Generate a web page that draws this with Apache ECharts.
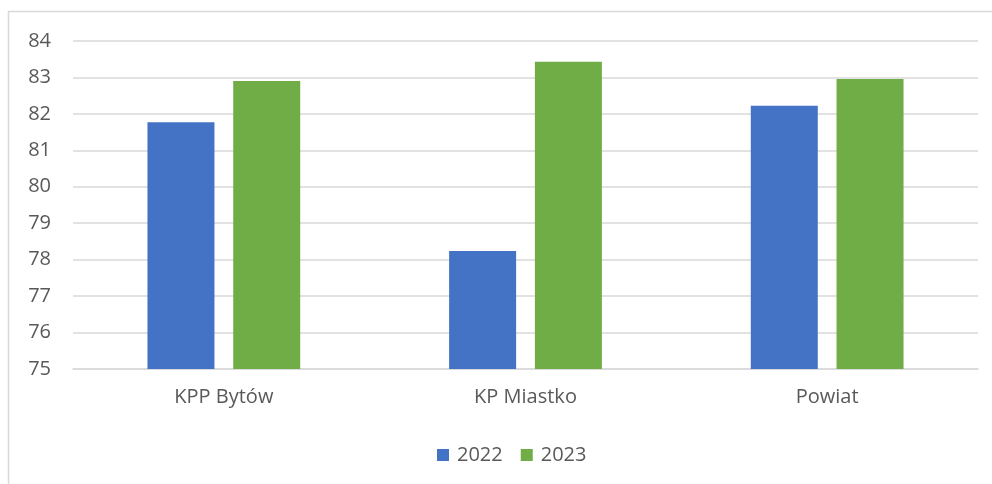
<!DOCTYPE html>
<html>
<head>
<meta charset="utf-8">
<script src="https://cdn.jsdelivr.net/npm/echarts@6/dist/echarts.min.js"></script>
<style>
html,body{margin:0;padding:0;background:#fff;}
#chart{width:992px;height:484px;}
</style>
</head>
<body>
<div id="chart"></div>
<script>
const categories = ['KPP Bytów', 'KP Miastko', 'Powiat'];
const seriesNames = ['2022', '2023'];
const values2022 = [81.77, 78.24, 82.22];
const values2023 = [82.90, 83.43, 82.96];
const yMin = 75, yMax = 84, yStep = 1;

const FONT = '"Open Sans", sans-serif';
const TEXT = '#595959';
const chart = echarts.init(document.getElementById('chart'), null, {renderer: 'canvas'});
chart.setOption({
  backgroundColor: '#ffffff',
  animation: false,
  graphic: [{
    type: 'rect',
    shape: {x: 8.5, y: 11.5, width: 1100, height: 600},
    style: {fill: 'none', stroke: '#d9d9d9', lineWidth: 1.5},
    silent: true
  }],
  grid: {left: 73, right: 14, top: 41, bottom: 115, containLabel: false},
  legend: {
    data: seriesNames,
    left: 432,
    top: 440,
    itemWidth: 12,
    itemHeight: 12,
    itemGap: 18,
    icon: 'rect',
    textStyle: {fontFamily: FONT, fontSize: 20, color: TEXT, padding: [0, 0, 0, 3]}
  },
  xAxis: {
    type: 'category',
    data: categories,
    axisLine: {show: true, lineStyle: {color: '#d9d9d9', width: 1.5}},
    axisTick: {show: false},
    axisLabel: {fontFamily: FONT, fontSize: 20, color: TEXT, margin: 18}
  },
  yAxis: {
    type: 'value',
    min: yMin, max: yMax, interval: yStep,
    axisLine: {show: false},
    axisTick: {show: false},
    axisLabel: {fontFamily: FONT, fontSize: 20, color: TEXT, margin: 22},
    splitLine: {lineStyle: {color: '#d9d9d9', width: 1.5}}
  },
  series: [
    {name: seriesNames[0], type: 'bar', data: values2022, barWidth: 67, barGap: '28%',
     itemStyle: {color: '#4472C4'}},
    {name: seriesNames[1], type: 'bar', data: values2023, barWidth: 67, barGap: '28%',
     itemStyle: {color: '#70AD47'}}
  ]
});
</script>
</body>
</html>
